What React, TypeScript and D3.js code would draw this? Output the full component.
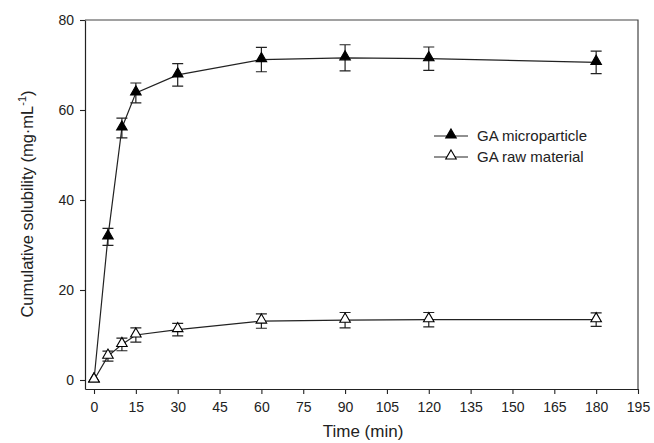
import React, { useEffect, useRef } from "react";
import * as d3 from "d3";

const times = [0, 5, 10, 15, 30, 60, 90, 120, 180];
const microValues = [0, 31.8, 56.0, 63.8, 67.8, 71.2, 71.6, 71.4, 70.6];
const microErrors = [0, 1.9, 2.2, 2.2, 2.5, 2.7, 2.9, 2.6, 2.5];
const rawValues = [0, 5.3, 7.9, 10.0, 11.2, 13.1, 13.3, 13.4, 13.4];
const rawErrors = [0, 1.1, 1.4, 1.6, 1.4, 1.6, 1.7, 1.6, 1.5];
const xTicks = [0, 15, 30, 45, 60, 75, 90, 105, 120, 135, 150, 165, 180, 195];
const yTicks = [0, 20, 40, 60, 80];
const seriesNames = ["GA microparticle", "GA raw material"];

export default function App() {
  const svgRef = useRef<SVGSVGElement>(null);

  useEffect(() => {
    const w = 654;
    const h = 443;
    const svg = d3.select(svgRef.current);
    svg.selectAll("*").remove();
    svg.attr("width", w).attr("height", h).style("background", "#fff");

    const font = "Liberation Sans, Arial, sans-serif";
    const ink = "#222";

    // scales
    const xScale = d3.scaleLinear().domain([-3.23, 195]).range([85, 638]);
    const yScale = d3.scaleLinear().domain([-2, 80]).range([389, 20]);

    // frame (top + right)
    svg
      .append("path")
      .attr("d", `M85,20H638V389`)
      .attr("fill", "none")
      .attr("stroke", "#444")
      .attr("stroke-width", 1.2);

    // axes
    const xAxis = d3
      .axisBottom(xScale)
      .tickValues(xTicks)
      .tickSize(5)
      .tickPadding(8)
      .tickSizeOuter(0);
    const yAxis = d3
      .axisLeft(yScale)
      .tickValues(yTicks)
      .tickSize(5)
      .tickPadding(6)
      .tickSizeOuter(0);

    const gx = svg.append("g").attr("transform", "translate(0,389)").call(xAxis);
    const gy = svg.append("g").attr("transform", "translate(85,0)").call(yAxis);
    [gx, gy].forEach((g) => {
      g.select(".domain").attr("stroke", ink).attr("stroke-width", 1.2);
      g.selectAll(".tick line").attr("stroke", ink).attr("stroke-width", 1.1);
      g.selectAll(".tick text")
        .attr("fill", ink)
        .style("font-family", font)
        .style("font-size", "14px");
    });

    // axis titles
    svg
      .append("text")
      .attr("x", 363)
      .attr("y", 437)
      .attr("text-anchor", "middle")
      .style("font-family", font)
      .style("font-size", "17px")
      .attr("fill", ink)
      .text("Time (min)");

    const yTitle = svg
      .append("text")
      .attr("transform", "translate(33,204) rotate(-90)")
      .attr("text-anchor", "middle")
      .style("font-family", font)
      .style("font-size", "16.5px")
      .attr("fill", ink);
    yTitle.append("tspan").text("Cumulative solubility (mg\u00b7mL");
    yTitle.append("tspan").attr("dy", -7).style("font-size", "11px").text("-1");
    yTitle.append("tspan").attr("dy", 7).text(")");

    const line = d3
      .line<number>()
      .x((d, i) => xScale(times[i]))
      .y((d) => yScale(d));

    const tri = d3.symbol().type(d3.symbolTriangle).size(48);

    const drawSeries = (values: number[], errors: number[], filled: boolean) => {
      const g = svg.append("g");
      g.append("path")
        .attr("d", line(values))
        .attr("fill", "none")
        .attr("stroke", ink)
        .attr("stroke-width", 1.2);

      // error bars
      const bars = values
        .map((v, i) => ({ t: times[i], v, e: errors[i] }))
        .filter((d) => d.e > 0);
      g.selectAll(".eb")
        .data(bars)
        .join("path")
        .attr("d", (d) => {
          const x = xScale(d.t);
          const y1 = yScale(d.v + d.e);
          const y2 = yScale(d.v - d.e);
          return `M${x},${y1}V${y2}M${x - 5.5},${y1}H${x + 5.5}M${x - 5.5},${y2}H${x + 5.5}`;
        })
        .attr("fill", "none")
        .attr("stroke", ink)
        .attr("stroke-width", 1.2);

      g.selectAll(".pt")
        .data(values)
        .join("path")
        .attr("d", tri)
        .attr("transform", (d, i) => `translate(${xScale(times[i])},${yScale(d) - 1})`)
        .attr("fill", filled ? "#000" : "#fff")
        .attr("stroke", "#000")
        .attr("stroke-width", 1.1);
    };

    drawSeries(microValues, microErrors, true);
    drawSeries(rawValues, rawErrors, false);

    // legend
    const legend = svg.append("g");
    seriesNames.forEach((name, i) => {
      const y = 136 + i * 21;
      legend
        .append("line")
        .attr("x1", 434)
        .attr("x2", 468)
        .attr("y1", y)
        .attr("y2", y)
        .attr("stroke", ink)
        .attr("stroke-width", 1.2);
      legend
        .append("path")
        .attr("d", tri)
        .attr("transform", `translate(451,${y - 1})`)
        .attr("fill", i === 0 ? "#000" : "#fff")
        .attr("stroke", "#000")
        .attr("stroke-width", 1.1);
      legend
        .append("text")
        .attr("x", 477)
        .attr("y", y + 5)
        .style("font-family", font)
        .style("font-size", "15px")
        .attr("fill", ink)
        .text(name);
    });
  }, []);

  return (
    <div style={{ position: "absolute", left: 0, top: 0 }}>
      <svg ref={svgRef}></svg>
    </div>
  );
}
